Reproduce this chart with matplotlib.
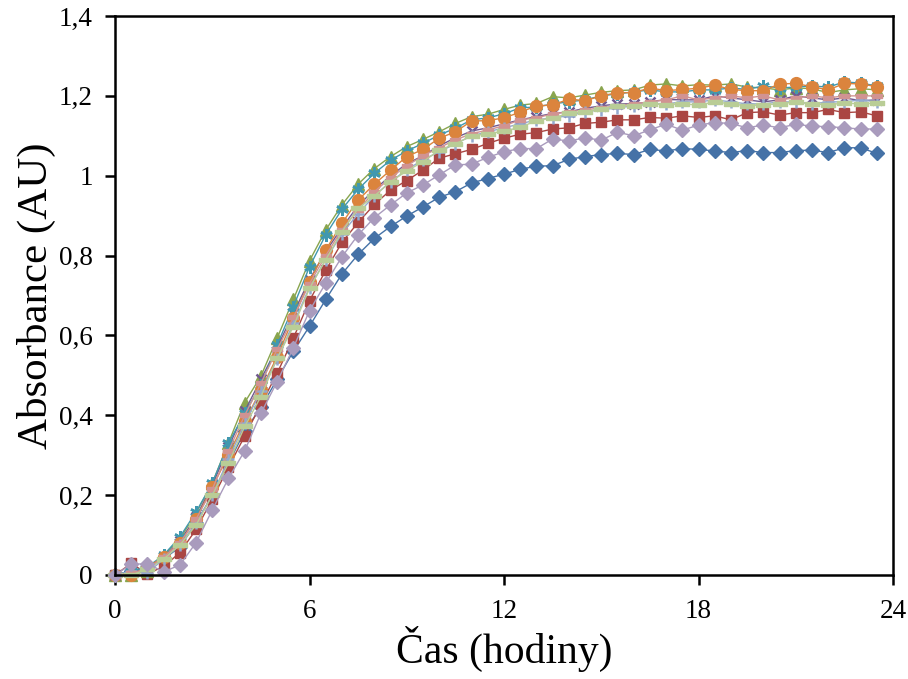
import matplotlib
matplotlib.use("Agg")
import matplotlib.pyplot as plt
from matplotlib.ticker import FixedLocator

hours = [0, 0.5, 1, 1.5, 2, 2.5, 3, 3.5, 4, 4.5, 5, 5.5, 6, 6.5, 7, 7.5, 8, 8.5, 9, 9.5,
         10, 10.5, 11, 11.5, 12, 12.5, 13, 13.5, 14, 14.5, 15, 15.5, 16, 16.5, 17, 17.5,
         18, 18.5, 19, 19.5, 20, 20.5, 21, 21.5, 22, 22.5, 23, 23.5]

s_blue = [0, 0.01, 0.02, 0.04, 0.07, 0.13, 0.20, 0.28, 0.36, 0.42, 0.49, 0.56, 0.623, 0.69,
          0.754, 0.803, 0.843, 0.873, 0.899, 0.922, 0.946, 0.960, 0.982, 0.993, 1.004, 1.016,
          1.024, 1.025, 1.041, 1.048, 1.053, 1.056, 1.053, 1.066, 1.062, 1.068, 1.066, 1.062,
          1.058, 1.063, 1.058, 1.058, 1.063, 1.064, 1.058, 1.070, 1.070, 1.056]
s_red = [0, 0.029, 0.003, 0.021, 0.056, 0.114, 0.19, 0.27, 0.348, 0.427, 0.505, 0.593, 0.687,
         0.763, 0.833, 0.883, 0.928, 0.964, 0.988, 1.014, 1.044, 1.055, 1.066, 1.081, 1.094,
         1.104, 1.108, 1.117, 1.12, 1.131, 1.134, 1.14, 1.14, 1.146, 1.144, 1.15, 1.146, 1.15,
         1.14, 1.158, 1.16, 1.152, 1.158, 1.158, 1.166, 1.158, 1.16, 1.15]
s_green = [0, 0.0, 0.01, 0.05, 0.09, 0.155, 0.23, 0.331, 0.432, 0.498, 0.593, 0.69, 0.787,
           0.864, 0.927, 0.979, 1.018, 1.048, 1.073, 1.091, 1.110, 1.131, 1.148, 1.154, 1.166,
           1.177, 1.181, 1.198, 1.195, 1.202, 1.209, 1.213, 1.215, 1.227, 1.23, 1.225, 1.228,
           1.227, 1.23, 1.222, 1.22, 1.215, 1.22, 1.218, 1.208, 1.215, 1.218, 1.215]
s_purple = [0, 0.01, 0.015, 0.045, 0.085, 0.145, 0.225, 0.32, 0.41, 0.49, 0.57, 0.655, 0.74,
            0.81, 0.87, 0.925, 0.965, 1.0, 1.03, 1.05, 1.075, 1.095, 1.112, 1.12, 1.13, 1.14,
            1.148, 1.156, 1.16, 1.169, 1.175, 1.18, 1.18, 1.185, 1.191, 1.19, 1.19, 1.2, 1.195,
            1.19, 1.185, 1.19, 1.2, 1.195, 1.19, 1.195, 1.188, 1.19]
s_aqua = [0, 0.01, 0.02, 0.05, 0.095, 0.158, 0.23, 0.33, 0.405, 0.476, 0.576, 0.672, 0.772,
          0.852, 0.916, 0.966, 1.006, 1.039, 1.062, 1.081, 1.102, 1.119, 1.14, 1.145, 1.155,
          1.17, 1.172, 1.18, 1.185, 1.19, 1.2, 1.205, 1.21, 1.215, 1.21, 1.21, 1.215, 1.215,
          1.22, 1.216, 1.225, 1.22, 1.222, 1.225, 1.222, 1.235, 1.232, 1.225]
s_orange = [0, 0.0, 0.02, 0.045, 0.08, 0.14, 0.22, 0.30, 0.385, 0.463, 0.547, 0.643, 0.735,
            0.814, 0.881, 0.939, 0.979, 1.014, 1.048, 1.066, 1.094, 1.110, 1.137, 1.138, 1.145,
            1.159, 1.175, 1.177, 1.192, 1.188, 1.2, 1.208, 1.208, 1.22, 1.213, 1.216, 1.219,
            1.227, 1.216, 1.213, 1.213, 1.23, 1.231, 1.223, 1.215, 1.231, 1.23, 1.223]
s_lightblue = [0, 0.01, 0.005, 0.04, 0.075, 0.13, 0.2, 0.29, 0.38, 0.46, 0.54, 0.63, 0.72,
               0.79, 0.855, 0.905, 0.95, 0.985, 1.015, 1.04, 1.06, 1.08, 1.1, 1.11, 1.12, 1.13,
               1.14, 1.145, 1.15, 1.16, 1.165, 1.17, 1.175, 1.18, 1.18, 1.185, 1.185, 1.19,
               1.185, 1.18, 1.18, 1.185, 1.185, 1.18, 1.185, 1.185, 1.19, 1.185]
s_pink = [0, 0.005, 0.015, 0.045, 0.08, 0.14, 0.215, 0.31, 0.40, 0.48, 0.565, 0.645, 0.73,
          0.80, 0.865, 0.915, 0.96, 0.995, 1.025, 1.05, 1.07, 1.09, 1.105, 1.115, 1.125, 1.14,
          1.145, 1.155, 1.16, 1.165, 1.17, 1.175, 1.18, 1.185, 1.19, 1.2, 1.19, 1.195, 1.2,
          1.195, 1.2, 1.19, 1.195, 1.2, 1.195, 1.2, 1.2, 1.2]
s_lightgreen = [0, 0, 0.014, 0.04, 0.075, 0.125, 0.2, 0.28, 0.372, 0.447, 0.543, 0.622, 0.718,
                0.79, 0.86, 0.918, 0.949, 0.985, 1.012, 1.035, 1.064, 1.08, 1.1, 1.105, 1.112,
                1.121, 1.138, 1.145, 1.156, 1.16, 1.168, 1.175, 1.175, 1.18, 1.178, 1.18, 1.177,
                1.185, 1.18, 1.175, 1.178, 1.18, 1.185, 1.18, 1.178, 1.182, 1.18, 1.182]
s_lavender = [0, 0.027, 0.028, 0.008, 0.025, 0.081, 0.163, 0.242, 0.311, 0.405, 0.484, 0.569,
              0.662, 0.731, 0.797, 0.852, 0.895, 0.927, 0.957, 0.977, 1.002, 1.027, 1.029, 1.046,
              1.06, 1.068, 1.068, 1.092, 1.087, 1.095, 1.089, 1.109, 1.100, 1.115, 1.129, 1.114,
              1.127, 1.133, 1.131, 1.12, 1.127, 1.12, 1.129, 1.124, 1.123, 1.12, 1.117, 1.117]

x_ticks = [0, 6, 12, 18, 24]
y_ticks = [0, 0.2, 0.4, 0.6, 0.8, 1.0, 1.2, 1.4]
y_tick_labels = ["0", "0,2", "0,4", "0,6", "0,8", "1", "1,2", "1,4"]

short_dash = [(-1, -0.4), (1, -0.4), (1, 0.4), (-1, 0.4), (-1, -0.4)]
long_dash = [(-1, -0.3), (1, -0.3), (1, 0.3), (-1, 0.3), (-1, -0.3)]

series = [
    (s_blue, "#4572A7", "D", 7.5, 1.0),
    (s_red, "#AA4643", "s", 7.0, 1.0),
    (s_green, "#89A54E", "^", 8.0, 1.0),
    (s_purple, "#71588F", "x", 7.0, 1.8),
    (s_aqua, "#4198AF", (6, 2, 0), 9.0, 1.8),
    (s_orange, "#DB843D", "o", 8.5, 1.0),
    (s_lightblue, "#93A9CF", "+", 8.5, 1.8),
    (s_pink, "#D19392", short_dash, 7.5, 1.0),
    (s_lightgreen, "#B9CD96", long_dash, 9.5, 1.0),
    (s_lavender, "#A99BBD", "D", 7.5, 1.0),
]

fig = plt.figure(figsize=(9.08, 6.79), dpi=100)
ax = fig.add_axes([0.1267, 0.1532, 0.8568, 0.8232])

for vals, col, mk, ms, mew in series:
    ax.plot(hours, vals, color=col, lw=1.0, marker=mk, markersize=ms,
            markerfacecolor=col, markeredgecolor=col, markeredgewidth=mew, clip_on=False)

ax.set_xlim(0, 24)
ax.set_ylim(0, 1.4)
ax.xaxis.set_major_locator(FixedLocator(x_ticks))
ax.yaxis.set_major_locator(FixedLocator(y_ticks))
ax.set_xticklabels([str(v) for v in x_ticks])
ax.set_yticklabels(y_tick_labels)

serif = ["Liberation Serif", "DejaVu Serif"]
for lab in ax.get_xticklabels() + ax.get_yticklabels():
    lab.set_fontfamily(serif)
    lab.set_fontsize(19.5)

ax.tick_params(axis="both", direction="out", length=7, width=1.8, color="black")
ax.tick_params(axis="x", pad=10)
ax.tick_params(axis="y", pad=9)
for sp in ax.spines.values():
    sp.set_linewidth(1.8)
    sp.set_color("black")

ax.set_xlabel("Čas (hodiny)", fontfamily=serif, fontsize=30, labelpad=2)
ax.set_ylabel("Absorbance (AU)", fontfamily=serif, fontsize=31, labelpad=2)

fig.savefig("out.png", dpi=100)
